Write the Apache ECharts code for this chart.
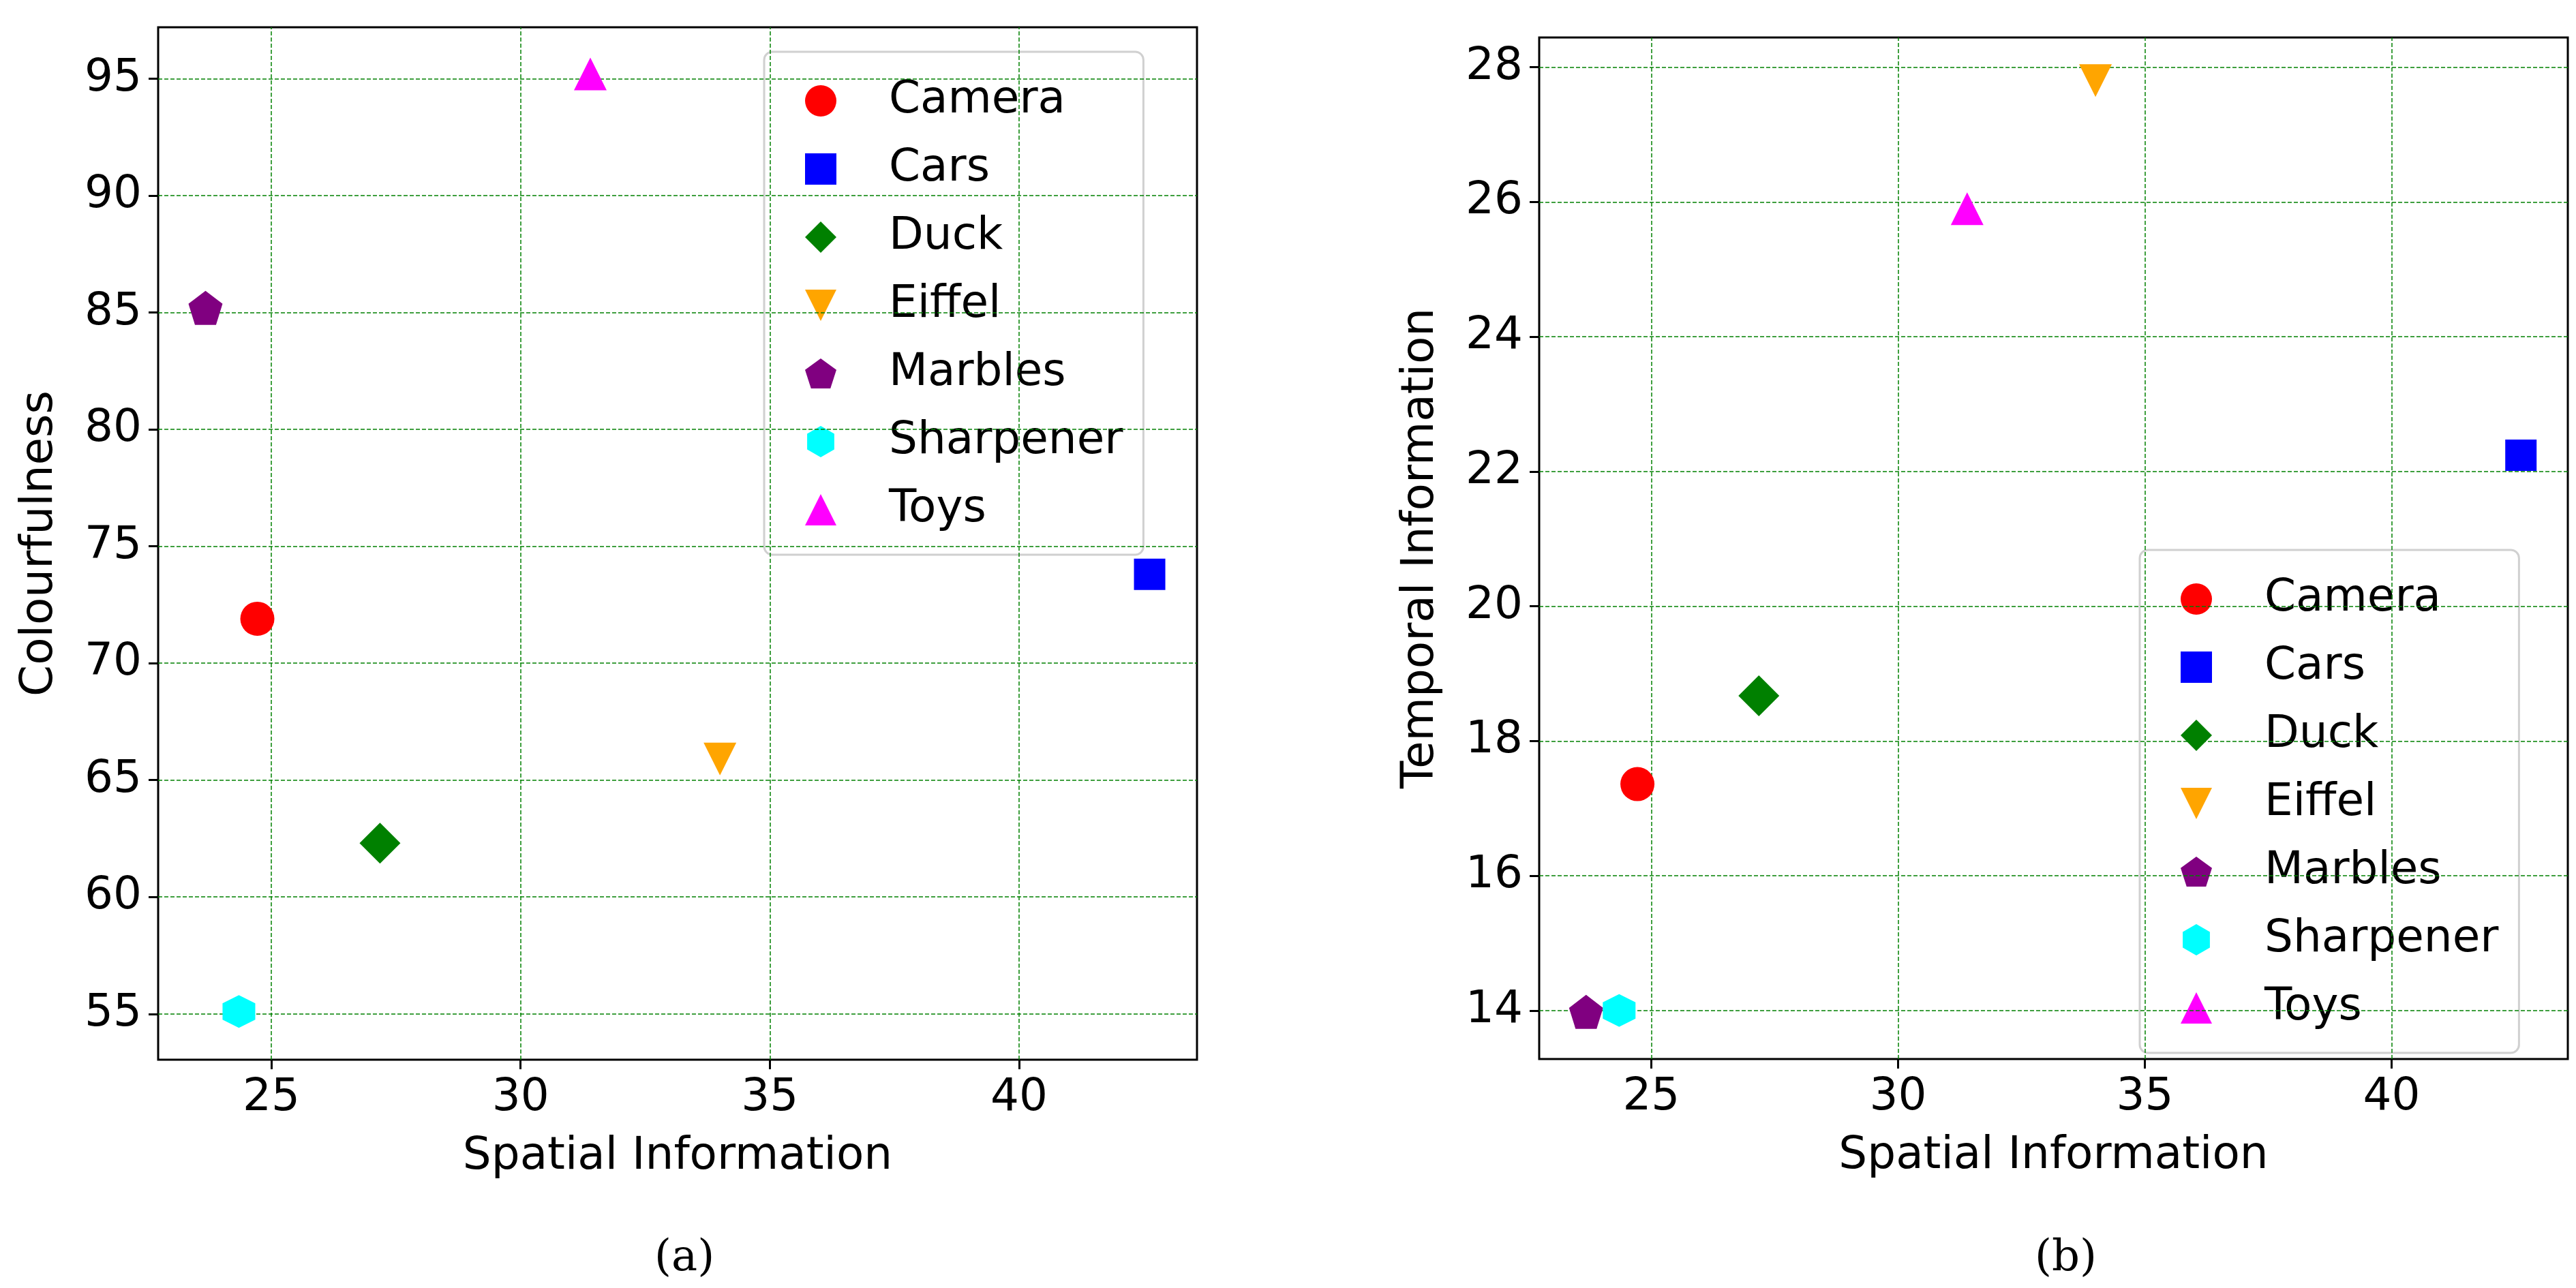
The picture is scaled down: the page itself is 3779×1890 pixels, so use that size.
<!DOCTYPE html>
<html>
<head>
<meta charset="utf-8">
<script src="https://cdn.jsdelivr.net/npm/echarts@6/dist/echarts.min.js"></script>
<style>
  html, body { margin: 0; padding: 0; background: #fff; }
  #chart { width: 3779px; height: 1890px; }
</style>
</head>
<body>
<div id="chart"></div>
<script>
// 数据
const names = ['Camera', 'Cars', 'Duck', 'Eiffel', 'Marbles', 'Sharpener', 'Toys'];
const spatial = [24.72, 42.62, 27.18, 34.0, 23.68, 24.35, 31.4];
const colourfulness = [71.9, 73.8, 62.3, 65.9, 85.2, 55.1, 95.2];
const temporal = [17.36, 22.24, 18.67, 27.8, 13.98, 14.0, 25.9];
const xTicks = [25, 30, 35, 40];
const yTicksA = [55, 60, 65, 70, 75, 80, 85, 90, 95];
const yTicksB = [14, 16, 18, 20, 22, 24, 26, 28];

const colors = ['red', 'blue', 'green', 'orange', 'purple', 'cyan', 'magenta'];
const pentagon = 'path://M0,-1 L0.951,-0.309 L0.588,0.809 L-0.588,0.809 L-0.951,-0.309 Z';
const hexagon = 'path://M0,-1 L0.866,-0.5 L0.866,0.5 L0,1 L-0.866,0.5 L-0.866,-0.5 Z';
const triDown = 'path://M-1,-1 L1,-1 L0,1 Z';
const symbols = ['circle', 'rect', 'diamond', triDown, pentagon, hexagon, 'triangle'];
const sizes = [50, 46, 60, 48, 50, 48, 48];

const FONT = 'DejaVu Sans';
const chart = echarts.init(document.getElementById('chart'));

function xAxis(gridIndex) {
  return {
    gridIndex: gridIndex, type: 'value', min: 22.73, max: 43.57,
    name: 'Spatial Information', nameLocation: 'middle', nameGap: 110,
    nameTextStyle: { fontFamily: FONT, fontSize: 66, color: '#000' },
    axisLine: { show: false },
    axisTick: { show: true, length: 14, lineStyle: { color: '#000', width: 3 }, customValues: xTicks },
    axisLabel: { fontFamily: FONT, fontSize: 66, color: '#000', margin: 24, customValues: xTicks },
    splitLine: { show: false }
  };
}

function yAxis(gridIndex, min, max, ticks, name, gap) {
  return {
    gridIndex: gridIndex, type: 'value', min: min, max: max,
    name: name, nameLocation: 'middle', nameGap: gap,
    nameTextStyle: { fontFamily: FONT, fontSize: 66, color: '#000' },
    axisLine: { show: false },
    axisTick: { show: true, length: 14, lineStyle: { color: '#000', width: 3 }, customValues: ticks },
    axisLabel: { fontFamily: FONT, fontSize: 66, color: '#000', margin: 24, customValues: ticks },
    splitLine: { show: false }
  };
}

function gridLines(xi, yi, yTicks) {
  // 网格线
  const data = [];
  xTicks.forEach(v => data.push({ xAxis: v }));
  yTicks.forEach(v => data.push({ yAxis: v }));
  return {
    type: 'scatter', xAxisIndex: xi, yAxisIndex: yi, data: [], silent: true, z: 1,
    markLine: {
      silent: true, symbol: 'none', label: { show: false }, animation: false,
      lineStyle: { color: 'green', type: [6, 3], width: 1.5 },
      data: data
    }
  };
}

const series = [gridLines(0, 0, yTicksA), gridLines(1, 1, yTicksB)];
names.forEach((n, i) => {
  series.push({
    name: n, type: 'scatter', xAxisIndex: 0, yAxisIndex: 0, z: 5,
    symbol: symbols[i], symbolSize: sizes[i],
    itemStyle: { color: colors[i], opacity: 1 },
    data: [[spatial[i], colourfulness[i]]]
  });
  series.push({
    name: n, type: 'scatter', xAxisIndex: 1, yAxisIndex: 1, z: 5,
    symbol: symbols[i], symbolSize: sizes[i],
    itemStyle: { color: colors[i], opacity: 1 },
    data: [[spatial[i], temporal[i]]]
  });
});

function legend(left, top) {
  return {
    orient: 'vertical', left: left, top: top,
    data: names.map((n, i) => ({ name: n, icon: symbols[i] })),
    itemWidth: 46, itemHeight: 46, itemGap: 28,
    padding: [36, 30, 30, 60],
    backgroundColor: 'rgba(255,255,255,0.8)',
    borderColor: '#d0d0d0', borderWidth: 3, borderRadius: 12,
    textStyle: { fontFamily: FONT, fontSize: 66, color: '#000', lineHeight: 72, padding: [0, 0, 0, 72] },
    selectedMode: false
  };
}

const option = {
  backgroundColor: '#fff',
  animation: false,
  grid: [
    { left: 232, top: 40, width: 1524, height: 1515, show: true, borderColor: '#000', borderWidth: 3, backgroundColor: 'transparent' },
    { left: 2258, top: 55, width: 1509, height: 1499, show: true, borderColor: '#000', borderWidth: 3, backgroundColor: 'transparent' }
  ],
  xAxis: [xAxis(0), xAxis(1)],
  yAxis: [
    yAxis(0, 53.04, 97.2, yTicksA, 'Colourfulness', 140),
    yAxis(1, 13.28, 28.44, yTicksB, 'Temporal Information', 140)
  ],
  legend: [legend(1121, 76), legend(3139, 807)],
  series: series,
  graphic: [
    { type: 'text', left: 960, top: 1815, style: { text: '(a)', font: '64px "DejaVu Serif"', fill: '#000' } },
    { type: 'text', left: 2985, top: 1815, style: { text: '(b)', font: '64px "DejaVu Serif"', fill: '#000' } }
  ]
};

chart.setOption(option);
</script>
</body>
</html>
